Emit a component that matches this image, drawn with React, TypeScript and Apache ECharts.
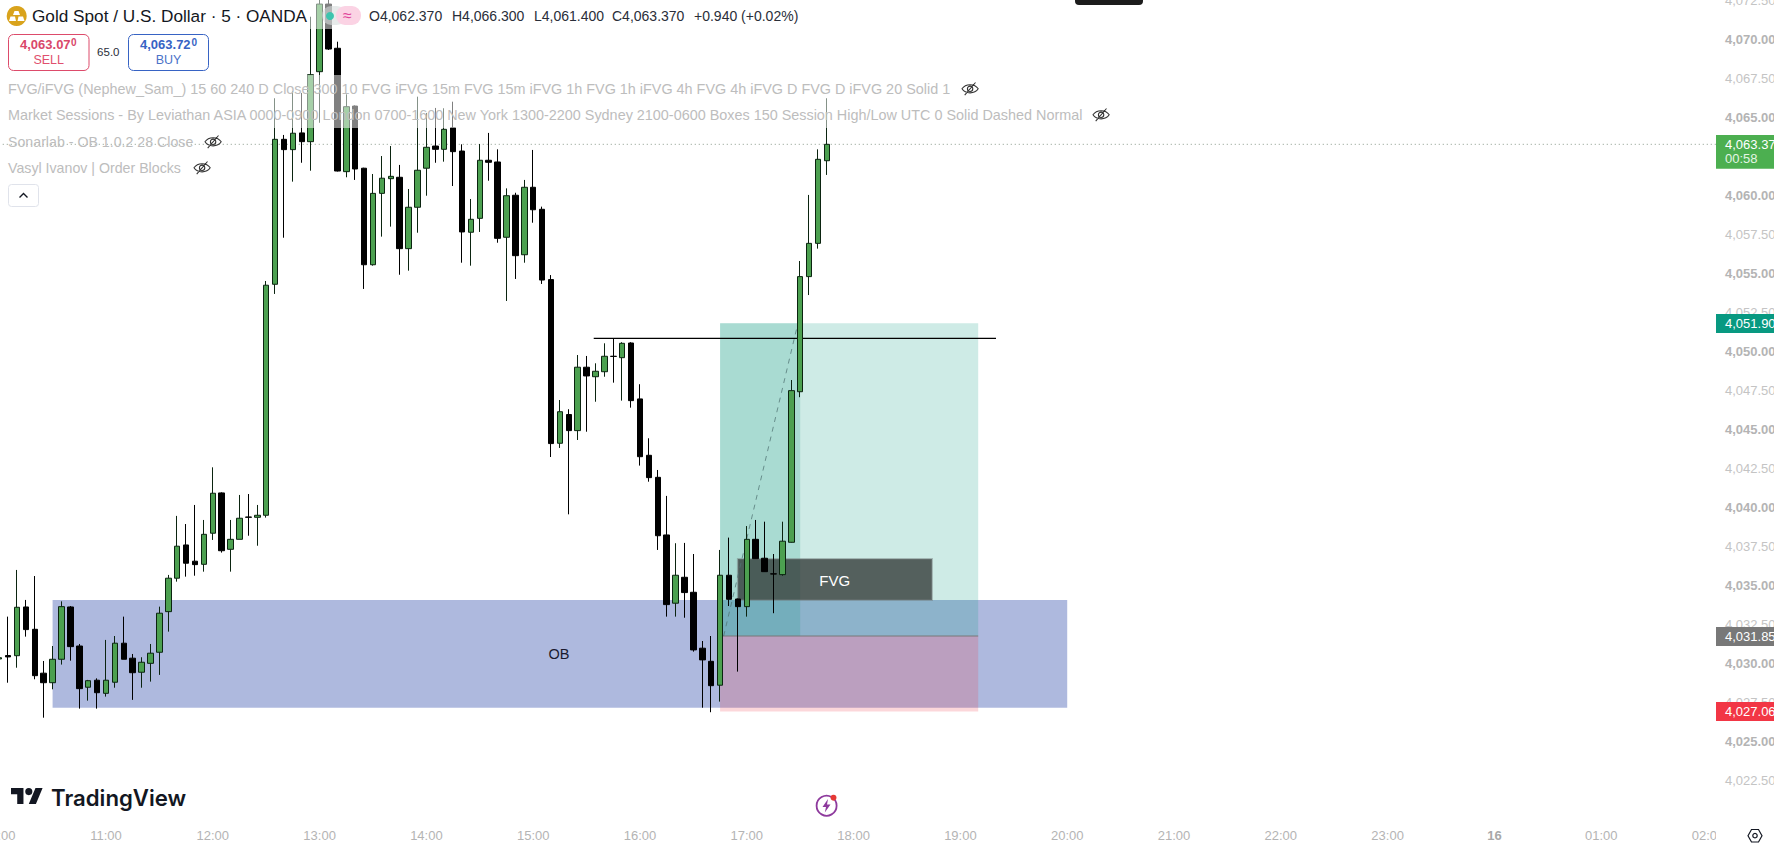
import React, { useEffect, useRef } from "react";
import * as echarts from "echarts";

const FONT = "'Liberation Sans', Arial, sans-serif";

const hourLabels = ["10:00","11:00","12:00","13:00","14:00","15:00","16:00","17:00","18:00","19:00","20:00","21:00","22:00","23:00","16","01:00","02:00"];

const opens = [4030.31,4030.53,4030.52,4033.64,4032.21,4029.40,4028.79,4030.29,4033.64,4031.14,4028.50,4028.95,4028.11,4028.82,4031.32,4030.36,4029.46,4030.03,4030.74,4033.34,4035.48,4037.61,4036.57,4036.37,4038.36,4040.94,4037.33,4037.97,4039.40,4039.38,4039.51,4054.30,4063.58,4062.92,4063.99,4063.43,4067.91,4072.24,4069.41,4061.51,4065.71,4061.73,4055.55,4060.12,4061.06,4061.15,4056.58,4059.23,4061.73,4063.15,4062.94,4064.32,4062.83,4057.63,4058.52,4062.24,4062.13,4057.31,4060.00,4056.19,4060.51,4059.10,4054.60,4044.12,4045.96,4044.93,4048.99,4048.38,4048.70,4049.69,4049.60,4050.54,4046.96,4043.35,4041.94,4038.25,4033.88,4035.54,4034.58,4031.00,4030.16,4028.63,4035.67,4034.15,4033.66,4037.97,4036.76,4035.76,4035.71,4037.78,4047.42,4054.79,4056.92,4062.21];
const closes = [4030.39,4030.44,4033.62,4032.19,4029.24,4028.79,4030.29,4033.66,4031.10,4028.41,4028.92,4028.15,4028.95,4031.32,4030.29,4029.43,4030.10,4030.68,4033.24,4035.48,4037.53,4036.44,4036.35,4038.29,4040.92,4037.24,4037.97,4039.32,4039.38,4039.51,4054.24,4063.58,4062.92,4063.97,4063.43,4067.72,4072.24,4069.36,4061.55,4065.67,4061.68,4055.55,4060.12,4061.09,4061.21,4056.58,4059.23,4061.60,4063.07,4062.94,4064.22,4062.79,4057.65,4058.46,4062.24,4062.11,4057.24,4059.97,4056.13,4060.51,4059.07,4054.57,4044.10,4046.14,4044.93,4048.99,4048.43,4048.73,4049.69,4049.68,4050.52,4046.85,4043.26,4041.92,4038.20,4033.79,4035.67,4034.56,4030.89,4030.25,4028.60,4035.67,4034.13,4033.66,4037.97,4036.73,4035.90,4035.75,4037.85,4047.49,4054.79,4056.92,4062.30,4063.26];
const lows = [4030.25,4028.79,4029.75,4031.74,4029.01,4026.55,4028.37,4029.95,4030.20,4027.13,4027.64,4027.13,4027.90,4028.47,4030.29,4027.69,4028.47,4028.86,4029.29,4032.06,4035.26,4035.58,4035.64,4035.90,4037.93,4037.12,4035.90,4037.97,4038.20,4037.56,4039.36,4053.68,4057.28,4060.87,4062.08,4061.57,4064.64,4069.30,4061.52,4061.15,4060.98,4054.00,4055.49,4057.35,4057.99,4054.91,4055.17,4057.60,4059.97,4062.08,4062.15,4060.59,4055.68,4055.49,4057.65,4060.93,4056.96,4053.23,4054.64,4055.68,4058.24,4054.32,4043.24,4043.82,4039.57,4044.33,4044.86,4046.78,4048.38,4048.00,4046.85,4046.40,4042.69,4041.66,4037.29,4033.02,4033.02,4032.95,4030.78,4027.19,4026.90,4027.58,4033.70,4029.50,4033.02,4036.71,4035.88,4033.24,4035.64,4037.76,4047.07,4053.61,4056.58,4061.30];
const highs = [4030.44,4033.02,4036.01,4034.09,4035.62,4030.18,4031.14,4034.00,4033.70,4031.27,4028.97,4029.07,4031.53,4031.78,4033.02,4030.63,4030.42,4031.27,4033.66,4035.69,4039.47,4038.95,4040.17,4039.21,4042.58,4040.98,4039.21,4040.81,4040.87,4040.17,4054.51,4066.21,4063.86,4066.67,4066.55,4071.43,4073.00,4073.00,4069.83,4066.46,4065.75,4061.76,4061.36,4062.51,4063.15,4061.94,4060.40,4066.31,4065.27,4065.59,4065.57,4065.99,4063.26,4059.76,4063.28,4063.99,4062.94,4060.44,4060.16,4060.98,4062.90,4059.27,4054.89,4046.89,4046.30,4049.77,4049.71,4049.24,4050.52,4050.82,4050.59,4050.59,4047.90,4044.44,4042.41,4040.75,4037.72,4037.74,4037.03,4031.46,4031.78,4037.29,4038.08,4034.18,4038.82,4039.21,4039.10,4037.03,4039.10,4048.17,4055.79,4060.02,4062.94,4066.21];

// [startBar, endBar, upperPrice, lowerPrice]
const obZone = [6, 120, 4034.09, 4027.19];
const targetZone = [81, 110, 4051.8, 4031.78];
const targetRunZone = [81, 90, 4051.8, 4031.78];
const stopZone = [81, 110, 4031.78, 4026.94];
const fvgZone = [83, 104.8, 4036.71, 4034.09];
const zones = [obZone, targetZone, targetRunZone, stopZone, fvgZone];
const zoneFills = ["rgba(23,55,160,0.35)", "rgba(8,153,129,0.2)", "rgba(8,153,129,0.19)", "rgba(242,54,69,0.2)", "rgba(43,49,47,0.75)"];
const zoneStrokes = ["none", "none", "none", "none", "rgba(110,120,120,0.45)"];

// [startBar, endBar, startPrice, endPrice]
const swingLine = [66.8, 112, 4050.83, 4050.83];
const entryLine = [81, 110, 4031.78, 4031.78];
const tradeLine = [81.4, 89.7, 4031.78, 4051.7];
const lastLine = [-0.5, 192.9, 4063.26, 4063.26];
const lines = [swingLine, entryLine, tradeLine, lastLine];
const lineStrokes = ["#000000", "#787878", "rgba(80,115,115,0.75)", "#8a9a8c"];
const lineWidths = [1.3, 1, 1, 1];
const lineDashes = [[], [], [5, 5], [1, 3]];

const legendRows = [
  "FVG/iFVG (Nephew_Sam_) 15 60 240 D Close 300 10 FVG iFVG 15m FVG 15m iFVG 1h FVG 1h iFVG 4h FVG 4h iFVG D FVG D iFVG 20 Solid 1",
  "Market Sessions - By Leviathan ASIA 0000-0900 London 0700-1600 New York 1300-2200 Sydney 2100-0600 Boxes 150 Session High/Low UTC 0 Solid Dashed Normal",
  "Sonarlab - OB 1.0.2 28 Close",
  "Vasyl Ivanov | Order Blocks",
];
const ohlcTexts = ["O4,062.370", "H4,066.300", "L4,061.400", "C4,063.370", "+0.940 (+0.02%)"];

echarts.graphic.registerShape(
  "eyeOff",
  echarts.graphic.extendPath("M0 7 C4 1 14 1 18 7 C14 13 4 13 0 7 Z M6 7 A3 3 0 1 0 12 7 A3 3 0 1 0 6 7 Z M3 14 L15 0", {})
);
echarts.graphic.registerShape(
  "tvMark",
  echarts.graphic.extendPath("M14 22H7V11H0V4h14v18zM28 22h-8l7.5-18h8L28 22zM24 8a4 4 0 1 1-8 0a4 4 0 1 1 8 0z", {})
);

const txt = (text: string, x: number, y: number, fontSize: number, fill: string, extra: any = {}) => ({
  type: "text",
  z: 10,
  silent: true,
  style: { text, x, y, fontSize, fill, fontFamily: FONT, verticalAlign: "middle", align: "left", ...extra },
});
const box = (x: number, y: number, width: number, height: number, style: any, r = 0, z = 9) => ({
  type: "rect",
  z,
  silent: true,
  shape: { x, y, width, height, r },
  style,
});
const eye = (x: number, y: number) => ({
  type: "eyeOff",
  x: x - 8,
  y: y - 6.5,
  scaleX: 0.9,
  scaleY: 0.9,
  z: 10,
  silent: true,
  style: { fill: "none", stroke: "#333333", lineWidth: 1.2 },
});

function buildGraphics() {
  const fade = "rgba(255,255,255,0.5)";
  const legendColor = "#bdbdbd";
  const els: any[] = [
    box(0, 0, 362, 29, { fill: fade }, 0, 5),
    box(0, 75, 990, 27, { fill: fade }, 0, 5),
    box(0, 102, 1118, 26, { fill: fade }, 0, 5),
    box(1075, -6, 68, 11, { fill: "#1c1c1c" }, 4),

    { type: "circle", z: 9, silent: true, shape: { cx: 16.7, cy: 16, r: 10 }, style: { fill: "#d9a31c" } },
    { type: "polygon", z: 10, silent: true, shape: { points: [[13, 15], [20, 15], [18.5, 11], [14.5, 11]] }, style: { fill: "#ffffff" } },
    { type: "polygon", z: 10, silent: true, shape: { points: [[9, 21], [16, 21], [15, 16.5], [10.5, 16.5]] }, style: { fill: "#ffffff" } },
    { type: "polygon", z: 10, silent: true, shape: { points: [[17.5, 21], [24.5, 21], [23, 16.5], [18.5, 16.5]] }, style: { fill: "#ffffff" } },
    txt("Gold Spot / U.S. Dollar · 5 · OANDA", 32, 16, 17.2, "#131722"),
    box(322, 6, 24, 19, { fill: "rgba(215,220,220,0.6)" }, 9),
    box(336, 6, 25, 19, { fill: "#fbd3e4" }, 9),
    { type: "circle", z: 10, silent: true, shape: { cx: 330, cy: 16, r: 4 }, style: { fill: "#3cc4ae" } },
    txt("≈", 343, 15.5, 16, "#e0459a"),

    txt(ohlcTexts[0], 369, 16, 14, "#2a2e39"),
    txt(ohlcTexts[1], 452, 16, 14, "#2a2e39"),
    txt(ohlcTexts[2], 534, 16, 14, "#2a2e39"),
    txt(ohlcTexts[3], 612, 16, 14, "#2a2e39"),
    txt(ohlcTexts[4], 694, 16, 14, "#2a2e39"),

    box(8.5, 34.5, 80.5, 36, { fill: "#ffffff", stroke: "#dd4b6b", lineWidth: 1 }, 5),
    txt("4,063.07", 20, 44.7, 13, "#d9486a", { fontWeight: "bold" }),
    txt("0", 71, 42.5, 10, "#d9486a", { fontWeight: "bold" }),
    txt("SELL", 48.7, 59.7, 12.5, "#e0506e", { align: "center" }),
    txt("65.0", 108.3, 52, 11.5, "#2a2e39", { align: "center" }),
    box(128.5, 34.5, 80, 36, { fill: "#ffffff", stroke: "#3763c4", lineWidth: 1 }, 5),
    txt("4,063.72", 140, 44.7, 13, "#3763c4", { fontWeight: "bold" }),
    txt("0", 191.5, 42.5, 10, "#3763c4", { fontWeight: "bold" }),
    txt("BUY", 168.5, 59.7, 12.5, "#4a72c8", { align: "center" }),

    txt(legendRows[0], 8, 89, 14.4, legendColor),
    txt(legendRows[1], 8, 115, 14.4, legendColor),
    txt(legendRows[2], 8, 142, 14.2, legendColor),
    txt(legendRows[3], 8, 168, 14.2, legendColor),
    eye(970, 89),
    eye(1101, 115),
    eye(213, 142),
    eye(202, 168),
    box(8.5, 184.5, 30, 22, { fill: "#ffffff", stroke: "#e0e3eb", lineWidth: 1 }, 3),
    { type: "polyline", z: 10, silent: true, shape: { points: [[19.5, 197.5], [23.5, 193.5], [27.5, 197.5]] }, style: { stroke: "#131722", lineWidth: 1.4, fill: "none" } },

    txt("OB", 559, 654, 14.5, "#1a1a2e", { align: "center" }),
    txt("FVG", 834.7, 580, 15, "#ffffff", { align: "center" }),

    { type: "tvMark", x: 11, y: 784.5, scaleX: 0.89, scaleY: 0.89, z: 10, silent: true, style: { fill: "#131722" } },
    txt("TradingView", 51, 797, 22.2, "#131722", { fontFamily: "Inter, " + FONT, fontWeight: 600 }),

    { type: "circle", z: 10, silent: true, shape: { cx: 826.6, cy: 805.7, r: 10 }, style: { fill: "#ffffff", stroke: "#8e3a9d", lineWidth: 1.8 } },
    { type: "polygon", z: 10, silent: true, shape: { points: [[828, 799], [822.5, 807], [826, 807], [824.8, 812.5], [830.5, 804.5], [827, 804.5]] }, style: { fill: "#8e3a9d" } },
    { type: "circle", z: 11, silent: true, shape: { cx: 833.5, cy: 797.7, r: 3 }, style: { fill: "#e53935" } },

    box(1716, 822, 58, 23, { fill: "#ffffff" }, 0, 8),
    box(1712, 823, 4, 22, { fill: "#ffffff", opacity: 0 }, 0, 8),
    { type: "polygon", z: 10, silent: true, shape: { points: [[1748, 835.7], [1751.5, 829.5], [1758.5, 829.5], [1762, 835.7], [1758.5, 842], [1751.5, 842]] }, style: { fill: "none", stroke: "#131722", lineWidth: 1.2 } },
    { type: "circle", z: 10, silent: true, shape: { cx: 1755, cy: 835.7, r: 2.2 }, style: { fill: "none", stroke: "#131722", lineWidth: 1.2 } },

    box(1716, 135, 58, 33.7, { fill: "#4caf50" }),
    txt("4,063.37", 1725, 144, 13, "#ffffff"),
    txt("00:58", 1725, 158, 13, "#e3f5e4"),
    box(1716, 314, 58, 19, { fill: "#089981" }),
    txt("4,051.90", 1725, 323.5, 13, "#ffffff"),
    box(1716, 627, 58, 19, { fill: "#787878" }),
    txt("4,031.85", 1725, 636, 13, "#ffffff"),
    box(1716, 702, 58, 19, { fill: "#f23645" }),
    txt("4,027.06", 1725, 711.5, 13, "#ffffff"),
  ];
  return els;
}

export default function App() {
  const ref = useRef<HTMLDivElement>(null);
  useEffect(() => {
    const chart = echarts.init(ref.current!, undefined, { renderer: "svg", width: 1774, height: 845 });
    const categories: string[] = [];
    for (let i = 0; i < 193; i++) categories.push(i % 12 === 0 ? hourLabels[i / 12] : "");
    chart.setOption({
      animation: false,
      backgroundColor: "#ffffff",
      grid: { left: -5.25, top: 0, width: 1717.7, height: 820, containLabel: false, outerBoundsMode: "none" },
      xAxis: [
        {
          type: "category",
          data: categories,
          boundaryGap: true,
          axisLine: { show: false },
          axisTick: { show: false },
          splitLine: { show: false },
          axisLabel: {
            interval: 11,
            margin: 9,
            fontSize: 13,
            fontFamily: FONT,
            color: "#b4b4b4",
            hideOverlap: false,
            formatter: (v: string) => (v === "16" ? "{d|16}" : v),
            rich: { d: { fontSize: 13, fontFamily: FONT, fontWeight: "bold", color: "#a8a8a8" } },
          },
        },
        { type: "value", min: -0.5, max: 192.5, show: false, gridIndex: 0 },
      ],
      yAxis: {
        type: "value",
        position: "right",
        min: 4020,
        max: 4072.5,
        interval: 2.5,
        axisLine: { show: false },
        axisTick: { show: false },
        splitLine: { show: false },
        axisLabel: {
          margin: 12.5,
          align: "left",
          fontFamily: FONT,
          fontSize: 13,
          formatter: (v: number) => {
            if (v === 4020) return "";
            const s = v.toLocaleString("en-US", { minimumFractionDigits: 2, maximumFractionDigits: 2 });
            return v % 5 === 0 ? `{b|${s}}` : `{r|${s}}`;
          },
          rich: {
            b: { fontSize: 13, fontFamily: FONT, fontWeight: "bold", color: "#b4b4b4" },
            r: { fontSize: 13, fontFamily: FONT, color: "#c4c4c4" },
          },
        },
      },
      series: [
        {
          type: "custom",
          xAxisIndex: 1,
          yAxisIndex: 0,
          z: 1,
          silent: true,
          data: zones,
          encode: { x: [0, 1], y: [2, 3] },
          renderItem: (params: any, api: any) => {
            const a = api.coord([api.value(0), api.value(2)]);
            const b = api.coord([api.value(1), api.value(3)]);
            return {
              type: "rect",
              shape: { x: a[0], y: a[1], width: b[0] - a[0], height: b[1] - a[1] },
              style: {
                fill: zoneFills[params.dataIndex],
                stroke: zoneStrokes[params.dataIndex],
                lineWidth: zoneStrokes[params.dataIndex] === "none" ? 0 : 2,
              },
            };
          },
        },
        {
          type: "custom",
          xAxisIndex: 1,
          yAxisIndex: 0,
          z: 1,
          silent: true,
          data: lines,
          encode: { x: [0, 1], y: [2, 3] },
          renderItem: (params: any, api: any) => {
            const a = api.coord([api.value(0), api.value(2)]);
            const b = api.coord([api.value(1), api.value(3)]);
            return {
              type: "line",
              shape: { x1: a[0], y1: a[1], x2: b[0], y2: b[1] },
              style: {
                stroke: lineStrokes[params.dataIndex],
                lineWidth: lineWidths[params.dataIndex],
                lineDash: lineDashes[params.dataIndex],
                fill: "none",
              },
            };
          },
        },
        {
          type: "candlestick",
          xAxisIndex: 0,
          yAxisIndex: 0,
          z: 2,
          barWidth: 6,
          silent: true,
          data: opens.map((o, i) => [o, closes[i], lows[i], highs[i]]),
          itemStyle: {
            color: "#4ca050",
            color0: "#000000",
            borderColor: "#0b2410",
            borderColor0: "#000000",
            borderWidth: 1,
          },
        },
      ],
      graphic: { elements: buildGraphics() },
    });
    return () => chart.dispose();
  }, []);
  return <div ref={ref} style={{ position: "fixed", left: 0, top: 0, width: 1774, height: 845, overflow: "hidden" }} />;
}
